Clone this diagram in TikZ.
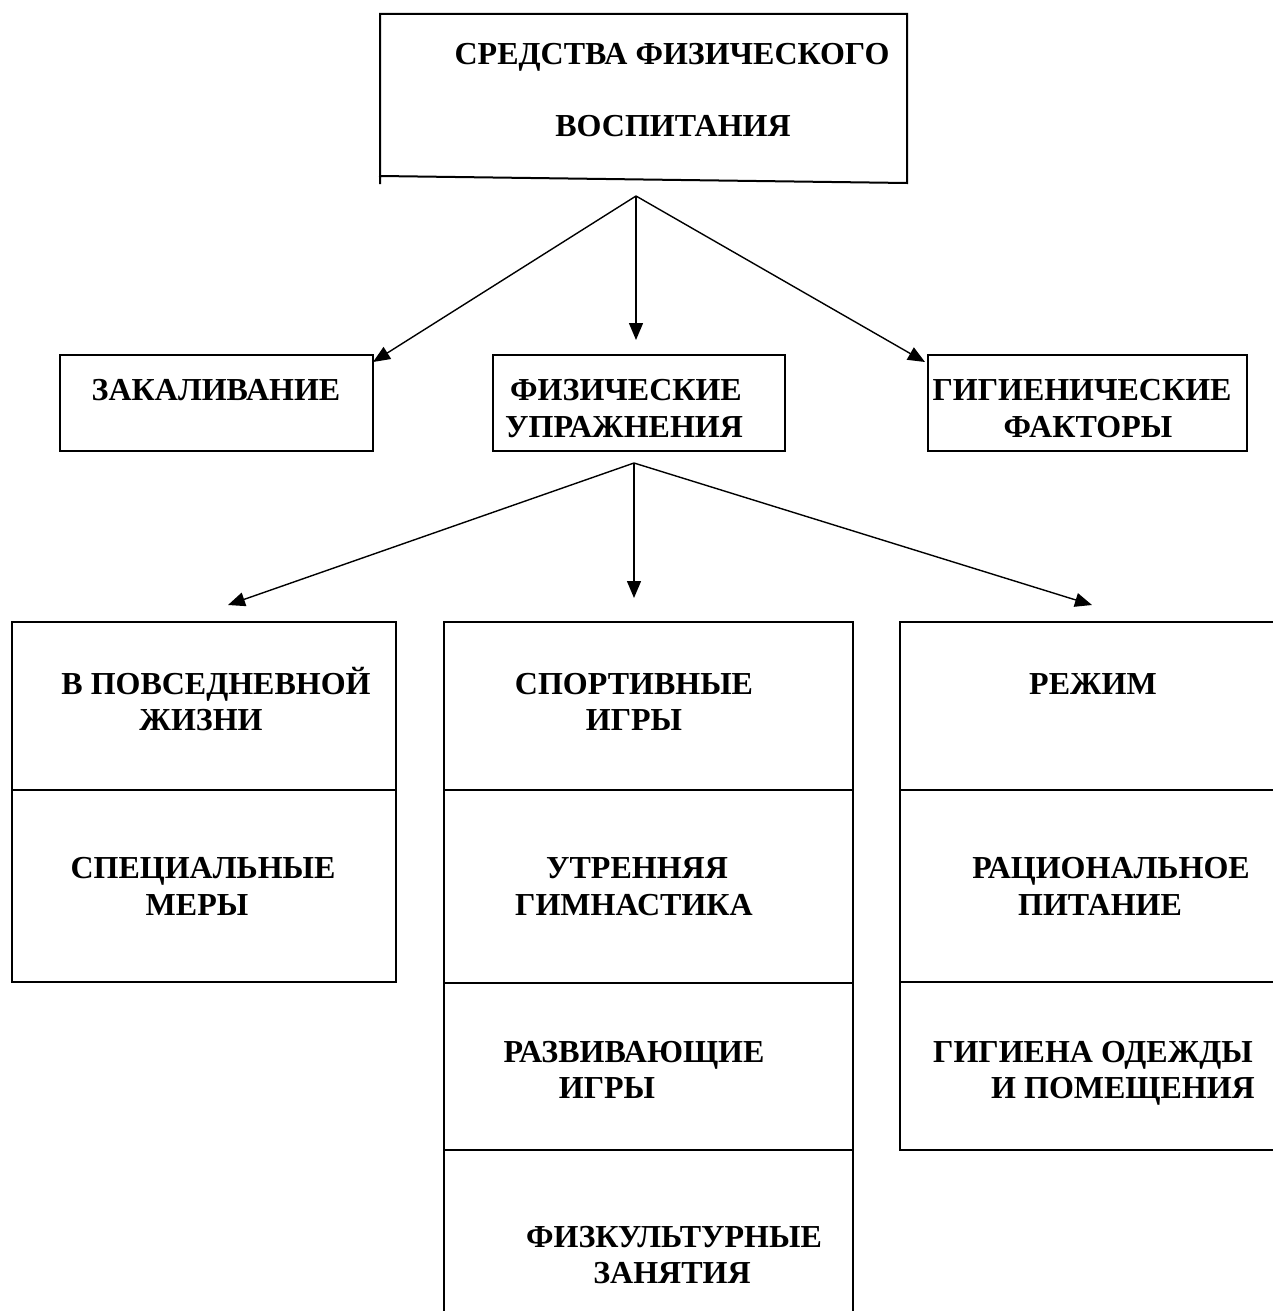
\documentclass[tikz,border=0pt]{standalone}
\usepackage{fontspec}
\setmainfont{Liberation Serif}
\usetikzlibrary{arrows.meta}
\begin{document}
\begin{tikzpicture}[x=1pt,y=-1pt,
  lbl/.style={anchor=base,inner sep=0pt,font=\fontsize{32}{38}\selectfont\bfseries},
  boxline/.style={line width=2pt},
  conn/.style={line width=1.4pt,-{Triangle[length=17pt,width=14pt]}}]
\useasboundingbox (0,0) rectangle (1272,1311);
% top box
\draw[boxline,line cap=rect] (380,183) -- (380,14) -- (907,14) -- (907,183) -- (380,176);
\node[lbl] (t1) at (672,65) {СРЕДСТВА ФИЗИЧЕСКОГО};
\node[lbl] (t2) at (673,136) {ВОСПИТАНИЯ};
% second row
\node[draw,boxline,minimum width=313pt,minimum height=96pt,inner sep=0pt] (zak) at (216,403) {};
\node[draw,boxline,minimum width=292pt,minimum height=96pt,inner sep=0pt] (fiz) at (639,403) {};
\node[draw,boxline,minimum width=319pt,minimum height=96pt,inner sep=0pt] (gig) at (1087,403) {};
\node[lbl] (zakt) at (216,400) {ЗАКАЛИВАНИЕ};
\node[lbl] (fizt1) at (626,400) {ФИЗИЧЕСКИЕ};
\node[lbl] (fizt2) at (624,437) {УПРАЖНЕНИЯ};
\node[lbl] (gigt1) at (1082,400) {ГИГИЕНИЧЕСКИЕ};
\node[lbl] (gigt2) at (1088,437) {ФАКТОРЫ};
% arrows level 1
\coordinate (o1) at (636,196);
\coordinate (e1l) at (373,362);
\coordinate (e1m) at (636,340);
\coordinate (e1r) at (925,362);
\draw[conn] (o1) -- (e1l);
\draw[conn] (o1) -- (e1m);
\draw[conn] (o1) -- (e1r);
% arrows level 2
\coordinate (o2) at (634,463);
\coordinate (e2l) at (228,605);
\coordinate (e2m) at (634,598);
\coordinate (e2r) at (1092,605);
\draw[conn] (o2) -- (e2l);
\draw[conn] (o2) -- (e2m);
\draw[conn] (o2) -- (e2r);
% left column
\node[draw,boxline,minimum width=384pt,minimum height=168pt,inner sep=0pt] (l1) at (204,706) {};
\node[draw,boxline,minimum width=384pt,minimum height=192pt,inner sep=0pt] (l2) at (204,886) {};
\node[lbl] (l1a) at (216,694) {В ПОВСЕДНЕВНОЙ};
\node[lbl] (l1b) at (201,730) {ЖИЗНИ};
\node[lbl] (l2a) at (203,878) {СПЕЦИАЛЬНЫЕ};
\node[lbl] (l2b) at (197,915) {МЕРЫ};
% middle column (open at the bottom)
\coordinate (mtl) at (444,622);
\coordinate (mtr) at (853,622);
\coordinate (mbl) at (444,1320);
\coordinate (mbr) at (853,1320);
\draw[boxline] (mbl) -- (mtl) -- (mtr) -- (mbr);
\draw[boxline] (444,790) -- (853,790);
\draw[boxline] (444,983) -- (853,983);
\draw[boxline] (444,1150) -- (853,1150);
\node[lbl] (m1a) at (634,694) {СПОРТИВНЫЕ};
\node[lbl] (m1b) at (634,730) {ИГРЫ};
\node[lbl] (m2a) at (637,878) {УТРЕННЯЯ};
\node[lbl] (m2b) at (634,915) {ГИМНАСТИКА};
\node[lbl] (m3a) at (634,1062) {РАЗВИВАЮЩИЕ};
\node[lbl] (m3b) at (607,1098) {ИГРЫ};
\node[lbl] (m4a) at (674,1247) {ФИЗКУЛЬТУРНЫЕ};
\node[lbl] (m4b) at (672,1283) {ЗАНЯТИЯ};
% right column (open on the right)
\coordinate (r0) at (900,622);
\coordinate (r1) at (900,1150);
\draw[boxline] (1280,622) -- (r0) -- (r1) -- (1280,1150);
\draw[boxline] (900,790) -- (1280,790);
\draw[boxline] (900,982) -- (1280,982);
\node[lbl] (r1t) at (1093,694) {РЕЖИМ};
\node[lbl] (r2a) at (1111,878) {РАЦИОНАЛЬНОЕ};
\node[lbl] (r2b) at (1100,915) {ПИТАНИЕ};
\node[lbl] (r3a) at (1093,1062) {ГИГИЕНА ОДЕЖДЫ};
\node[lbl] (r3b) at (1123,1098) {И ПОМЕЩЕНИЯ};
\end{tikzpicture}
\end{document}
